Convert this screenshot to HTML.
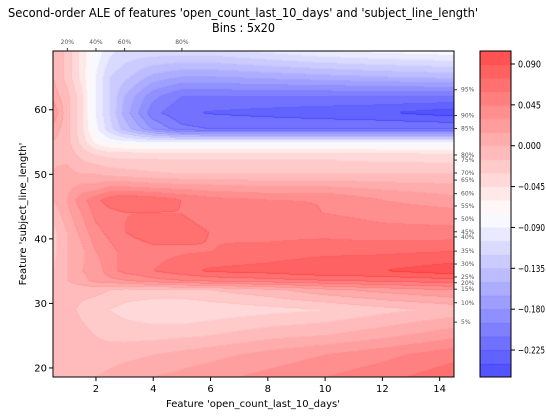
<!DOCTYPE html>
<html><head><meta charset="utf-8"><style>
body{margin:0;background:#fff;width:546px;height:416px;overflow:hidden;font-family:"DejaVu Sans","Liberation Sans",sans-serif;}
#wrap{position:relative;width:546px;height:416px;}
canvas{position:absolute;}
svg{position:absolute;left:0;top:0;}
</style></head><body>
<div id="wrap">
<canvas id="plot" width="401" height="326" style="left:53px;top:51px"></canvas>
<canvas id="cbar" width="31" height="326" style="left:480px;top:51px"></canvas>
<svg id="ov" width="546" height="416"></svg>
</div>
<script>
const xNodes=[0.5,1,1.5,2,2.5,3,4,5,6,8,10,12,14.5];
const yNodes=[18.6,22,25,29,32,33.5,35,38,41,44,46,48,50,53,55,57,59.5,62,65,69.1];
const zRows=[
[0.0,0.0,0.0,0.0,0.005,0.01,0.015,0.02,0.025,0.035,0.045,0.055,0.07],
[0.0,0.0,-0.005,-0.01,-0.008,-0.005,0.0,0.005,0.01,0.02,0.03,0.04,0.055],
[0.0,-0.005,-0.01,-0.015,-0.018,-0.02,-0.02,-0.018,-0.015,-0.005,0.0,0.01,0.025],
[-0.005,-0.01,-0.018,-0.025,-0.03,-0.035,-0.042,-0.045,-0.04,-0.035,-0.03,-0.02,-0.01],
[-0.01,-0.01,-0.01,-0.01,-0.015,-0.02,-0.02,-0.018,-0.015,-0.005,0.01,0.02,0.03],
[-0.01,0.0,0.01,0.02,0.025,0.03,0.04,0.045,0.05,0.055,0.06,0.065,0.07],
[-0.015,0.0,0.015,0.02,0.04,0.05,0.06,0.07,0.078,0.082,0.09,0.09,0.1],
[-0.02,0.0,0.01,0.03,0.04,0.05,0.055,0.058,0.06,0.065,0.07,0.072,0.075],
[-0.02,0.0,0.02,0.04,0.05,0.06,0.07,0.065,0.06,0.055,0.055,0.05,0.05],
[-0.01,0.01,0.03,0.05,0.055,0.06,0.06,0.06,0.055,0.05,0.045,0.04,0.035],
[0.0,0.015,0.04,0.055,0.07,0.075,0.07,0.06,0.05,0.045,0.045,0.03,0.02],
[0.0,0.01,0.02,0.02,0.03,0.03,0.025,0.022,0.02,0.015,0.015,0.01,0.005],
[0.0,0.005,0.0,0.0,-0.005,-0.008,-0.012,-0.015,-0.015,-0.015,-0.015,-0.015,-0.015],
[0.0,-0.005,-0.02,-0.03,-0.035,-0.035,-0.035,-0.035,-0.035,-0.035,-0.035,-0.038,-0.04],
[0.0,-0.01,-0.035,-0.065,-0.08,-0.085,-0.09,-0.09,-0.09,-0.09,-0.09,-0.09,-0.09],
[0.01,-0.01,-0.04,-0.085,-0.115,-0.14,-0.18,-0.205,-0.21,-0.21,-0.21,-0.21,-0.21],
[0.03,-0.01,-0.04,-0.09,-0.12,-0.155,-0.205,-0.222,-0.226,-0.23,-0.234,-0.238,-0.248],
[0.01,-0.01,-0.04,-0.09,-0.12,-0.15,-0.19,-0.21,-0.21,-0.21,-0.21,-0.21,-0.21],
[0.0,-0.02,-0.05,-0.09,-0.12,-0.13,-0.155,-0.165,-0.165,-0.16,-0.155,-0.15,-0.145],
[0.0,-0.02,-0.05,-0.08,-0.1,-0.11,-0.11,-0.11,-0.11,-0.1,-0.09,-0.085,-0.08]];
const xTicks=[2,4,6,8,10,12,14];
const yTicks=[20,30,40,50,60];
const cTicks=[0.09,0.045,0,-0.045,-0.09,-0.135,-0.18,-0.225];
const cTickLabels=["0.090","0.045","0.000","\u22120.045","\u22120.090","\u22120.135","\u22120.180","\u22120.225"];
const topPct=["20%","40%","60%","80%"];
const topPctVals=[1,2,3,5];
const rightPct=["5%","10%","15%","20%","25%","30%","35%","40%","45%","50%","55%","60%","65%","70%","75%","80%","85%","90%","95%"];
const rightPctVals=[27.1,30.1,32.2,33.2,34.1,36.1,38.1,40.3,41.1,43.1,45.1,47.0,49.1,50.2,52.2,53.0,57.1,59.1,63.1];

const X0=53,X1=454,Y0=51,Y1=377,xmin=0.5,xmax=14.5,ymin=18.6,ymax=69.1;
const vmin=-0.2547,vmax=0.1043,step=0.015;
function xs(v){return X0+(v-xmin)/(xmax-xmin)*(X1-X0);}
function ys(v){return Y1-(v-ymin)/(ymax-ymin)*(Y1-Y0);}
function cy(v){return Y1-(v-vmin)/(vmax-vmin)*(Y1-Y0);}
function seg(arr,v){let i=0;while(i<arr.length-2&&v>arr[i+1])i++;return i;}
function interp(x,y){
  const i=seg(xNodes,x),j=seg(yNodes,y);
  let tx=(x-xNodes[i])/(xNodes[i+1]-xNodes[i]),ty=(y-yNodes[j])/(yNodes[j+1]-yNodes[j]);
  tx=Math.max(0,Math.min(1,tx));ty=Math.max(0,Math.min(1,ty));
  const a=zRows[j][i],b=zRows[j][i+1],c=zRows[j+1][i],d=zRows[j+1][i+1];
  return a*(1-tx)*(1-ty)+b*tx*(1-ty)+c*(1-tx)*ty+d*tx*ty;
}
const nb=Math.ceil((vmax-vmin)/step);
function band(v){return Math.max(0,Math.min(nb-1,Math.floor((v-vmin)/step)));}
function bandColor(k,dark){
  const mid=vmin+(k+0.5)*step;let t=(mid-vmin)/(vmax-vmin);t=Math.max(0,Math.min(1,t));
  let r,g,b;if(t<0.5){r=2*t;g=2*t;b=1;}else{r=1;g=2-2*t;b=2-2*t;}
  const a=dark?0.8:0.7;
  return [255*(1-a*(1-r)),255*(1-a*(1-g)),255*(1-a*(1-b))];
}
(function(){
  const cv=document.getElementById('plot'),ctx=cv.getContext('2d');
  const W=cv.width,H=cv.height,img=ctx.createImageData(W,H);
  const B=new Int16Array(W*H);
  for(let py=0;py<H;py++)for(let px=0;px<W;px++){
    const x=xmin+(px+0.5)/W*(xmax-xmin),y=ymax-(py+0.5)/H*(ymax-ymin);
    B[py*W+px]=band(interp(x,y));
  }
  for(let py=0;py<H;py++)for(let px=0;px<W;px++){
    const k=B[py*W+px];
    const edge=(px<W-1&&B[py*W+px+1]!==k)||(py<H-1&&B[(py+1)*W+px]!==k);
    const c=bandColor(k,edge);const o=(py*W+px)*4;
    img.data[o]=c[0];img.data[o+1]=c[1];img.data[o+2]=c[2];img.data[o+3]=255;
  }
  ctx.putImageData(img,0,0);
  const cb=document.getElementById('cbar'),c2=cb.getContext('2d');
  for(let k=0;k<nb;k++){
    const c=bandColor(k,false);c2.fillStyle=`rgb(${c[0]|0},${c[1]|0},${c[2]|0})`;
    const ya=cy(vmin+k*step)-Y0,yb=cy(vmin+(k+1)*step)-Y0;
    c2.fillRect(0,yb,31,ya-yb+0.5);
    const d=bandColor(k,true);c2.fillStyle=`rgb(${d[0]|0},${d[1]|0},${d[2]|0})`;c2.fillRect(0,yb,31,1);
  }
})();
(function(){
  const svg=document.getElementById('ov'),NS='http://www.w3.org/2000/svg';
  function el(tag,attrs,txt){const e=document.createElementNS(NS,tag);for(const k in attrs)e.setAttribute(k,attrs[k]);if(txt!==undefined)e.textContent=txt;svg.appendChild(e);return e;}
  let e;
  e=el('text',{x:8,y:17,'font-size':'12',textLength:470,lengthAdjust:'spacingAndGlyphs',fill:'#000'},"Second-order ALE of features 'open_count_last_10_days' and 'subject_line_length'");
  
  
  e=el('text',{x:212,y:32,'font-size':'12',textLength:63,lengthAdjust:'spacingAndGlyphs',fill:'#000'},"Bins : 5x20");
  
  
  e=el('rect',{x:X0,y:Y0,width:X1-X0,height:Y1-Y0,fill:'none',stroke:'#000','stroke-width':1});
  
  
  e=el('rect',{x:480,y:Y0,width:31,height:Y1-Y0,fill:'none',stroke:'#000','stroke-width':1});
  
  
  xTicks.forEach(v=>{const x=xs(v);
    e=el('line',{x1:x,x2:x,y1:Y1,y2:Y1+4,stroke:'#000'});
    
    
    e=el('text',{x:x,y:Y1+15,'text-anchor':'middle','font-size':'10'},String(v));
    
    });
  yTicks.forEach(v=>{const y=ys(v);
    e=el('line',{x1:X0-4,x2:X0,y1:y,y2:y,stroke:'#000'});
    
    
    e=el('text',{x:X0-6,y:y+3.5,'text-anchor':'end','font-size':'10'},String(v));
    
    });
  topPctVals.forEach((v,i)=>{const x=xs(v);
    e=el('line',{x1:x,x2:x,y1:Y0-3,y2:Y0,stroke:'#333'});
    
    
    e=el('text',{x:x,y:Y0-7,'text-anchor':'middle','font-size':'6',fill:'#555'},topPct[i]);
    
    });
  rightPctVals.forEach((v,i)=>{const y=ys(v);
    e=el('line',{x1:X1,x2:X1+3,y1:y,y2:y,stroke:'#333'});
    
    
    e=el('text',{x:X1+7,y:y+2,'font-size':'6',fill:'#555'},rightPct[i]);
    
    });
  cTicks.forEach((v,i)=>{const y=cy(v);
    e=el('line',{x1:511,x2:515,y1:y,y2:y,stroke:'#000'});
    
    
    e=el('text',{x:518,y:y+3.5,'font-size':'10',textLength:(cTickLabels[i].length>5?27:23),lengthAdjust:'spacingAndGlyphs'},cTickLabels[i]);
    
    });
  e=el('text',{x:253,y:407,'text-anchor':'middle','font-size':'10'},"Feature 'open_count_last_10_days'");
  
  
  e=el('text',{x:0,y:0,'text-anchor':'middle','font-size':'10',transform:'translate(26,214) rotate(-90)'},"Feature 'subject_line_length'");
  
  
})();
</script>
</body></html>
